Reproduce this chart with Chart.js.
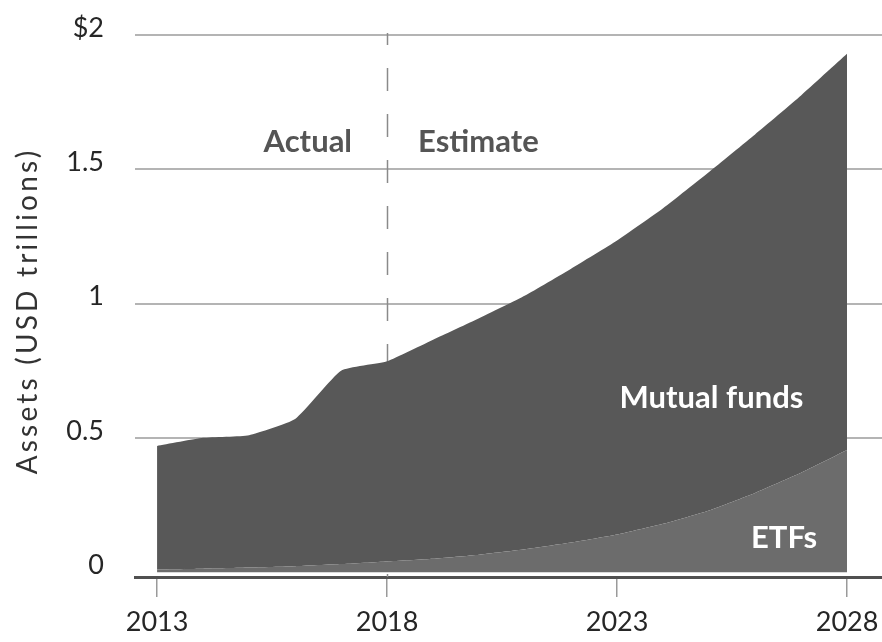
<!DOCTYPE html>
<html>
<head>
<meta charset="utf-8">
<title>Assets: mutual funds and ETFs</title>
<script src="https://cdn.jsdelivr.net/npm/chart.js@4.4.1/dist/chart.umd.min.js"></script>
<style>
    html, body { margin: 0; padding: 0; background: #ffffff; }
    #assetsChart { display: block; }
</style>
</head>
<body>
<canvas id="assetsChart" width="882" height="642"></canvas>
<script>
// Assets in USD trillions, actual to 2018 and estimated after
const years = [2013, 2014, 2015, 2016, 2017, 2018, 2019, 2020, 2021, 2022, 2023, 2024, 2025, 2026, 2027, 2028];
const etfs = [0.01, 0.013, 0.017, 0.022, 0.03, 0.04, 0.05, 0.065, 0.085, 0.11, 0.14, 0.18, 0.23, 0.295, 0.37, 0.455];
const mutualFunds = [0.46, 0.487, 0.493, 0.548, 0.72, 0.745, 0.815, 0.88, 0.945, 1.02, 1.095, 1.175, 1.26, 1.335, 1.405, 1.475];

const yTicks = [0, 0.5, 1, 1.5, 2];
const xTicks = [2013, 2018, 2023, 2028];
const splitYear = 2018;
const yTitle = "Assets (USD trillions)";

const FONT = "Lato, 'Open Sans', sans-serif";

document.addEventListener("DOMContentLoaded", function () {
    const canvas = document.getElementById("assetsChart");

    // dashed actual/estimate divider, text labels and the rotated axis title
    const annotate = {
        id: "annotate",
        beforeDatasetsDraw(chart) {
            const { ctx, scales: { x, y }, chartArea } = chart;
            const px = Math.round(x.getPixelForValue(splitYear)) + 0.5;
            ctx.save();
            ctx.strokeStyle = "#8a8a8a";
            ctx.lineWidth = 1.5;
            ctx.setLineDash([23, 23]);
            ctx.lineDashOffset = 11;
            ctx.beginPath();
            ctx.moveTo(px, y.getPixelForValue(2) - 2);
            ctx.lineTo(px, chartArea.bottom);
            ctx.stroke();
            ctx.restore();
        },
        afterDatasetsDraw(chart) {
            const { ctx, scales: { x, y } } = chart;
            const px = x.getPixelForValue(splitYear);
            ctx.save();
            ctx.textBaseline = "middle";
            ctx.font = "bold 31px " + FONT;

            ctx.fillStyle = "#555555";
            ctx.textAlign = "right";
            ctx.fillText("Actual", px - 35, y.getPixelForValue(1.6));
            ctx.textAlign = "left";
            ctx.fillText("Estimate", px + 31, y.getPixelForValue(1.6));

            ctx.fillStyle = "#ffffff";
            ctx.textAlign = "right";
            ctx.fillText("Mutual funds", x.getPixelForValue(2027.05), y.getPixelForValue(0.65));
            ctx.fillText("ETFs", x.getPixelForValue(2027.35), y.getPixelForValue(0.128));
            ctx.restore();
        },
        afterDraw(chart) {
            const { ctx } = chart;
            ctx.save();
            ctx.translate(28, 311);
            ctx.rotate(-Math.PI / 2);
            ctx.font = "28px " + FONT;
            ctx.letterSpacing = "3.2px";
            ctx.fillStyle = "#333333";
            ctx.textAlign = "center";
            ctx.textBaseline = "middle";
            ctx.fillText(yTitle, 0, 0);
            ctx.restore();
        }
    };

    new Chart(canvas, {
        type: "line",
        data: {
            datasets: [
                {
                    label: "ETFs",
                    data: years.map((yr, i) => ({ x: yr, y: etfs[i] })),
                    backgroundColor: "#6c6c6c",
                    borderWidth: 0,
                    pointRadius: 0,
                    fill: "origin",
                    tension: 0.15,
                },
                {
                    label: "Mutual funds",
                    data: years.map((yr, i) => ({ x: yr, y: mutualFunds[i] })),
                    backgroundColor: "#585858",
                    borderWidth: 0,
                    pointRadius: 0,
                    fill: "-1",
                    tension: 0.15,
                },
            ],
        },
        options: {
            responsive: false,
            animation: false,
            layout: {
                padding: { top: 35, right: 0, bottom: 2, left: 0 },
            },
            plugins: {
                legend: { display: false },
                tooltip: { enabled: false },
            },
            scales: {
                x: {
                    type: "linear",
                    min: 2012.52,
                    max: 2028.76,
                    afterBuildTicks: (scale) => {
                        scale.ticks = xTicks.map((v) => ({ value: v }));
                    },
                    afterFit: (scale) => {
                        scale.height = 63;
                        scale.paddingLeft = 0;
                        scale.paddingRight = 0;
                    },
                    grid: {
                        drawOnChartArea: false,
                        drawTicks: true,
                        tickLength: 20,
                        color: "#9a9a9a",
                        lineWidth: 1.5,
                    },
                    border: {
                        display: true,
                        color: "#505050",
                        width: 3,
                    },
                    ticks: {
                        padding: 9,
                        color: "#262626",
                        font: { family: FONT, size: 27 },
                        callback: (v) => String(v),
                    },
                },
                y: {
                    stacked: true,
                    min: -0.018,
                    max: 2,
                    afterBuildTicks: (scale) => {
                        scale.ticks = yTicks.map((v) => ({ value: v }));
                    },
                    afterFit: (scale) => {
                        scale.width = 135;
                        scale.paddingTop = 0;
                        scale.paddingBottom = 0;
                    },
                    grid: {
                        drawTicks: false,
                        color: (c) => (c.tick && c.tick.value === 0 ? "rgba(0,0,0,0)" : "#b4b4b4"),
                        lineWidth: 2,
                    },
                    border: { display: false },
                    ticks: {
                        padding: 31,
                        labelOffset: -7,
                        color: "#262626",
                        font: { family: FONT, size: 27 },
                        callback: (v) => (v === 2 ? "$2" : String(v)),
                    },
                },
            },
        },
        plugins: [annotate],
    });
});
</script>
</body>
</html>
